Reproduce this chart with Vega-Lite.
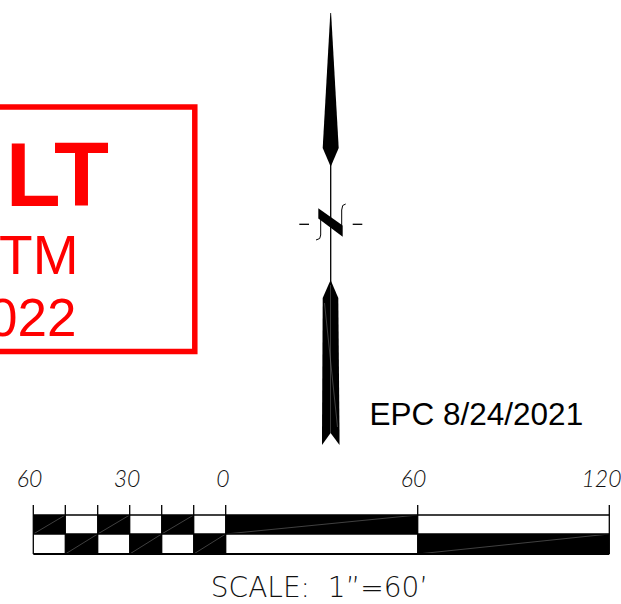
{
"$schema":"https://vega.github.io/schema/vega-lite/v6.json",
"width":621,"height":604,"autosize":"none","padding":0,
"background":"white",
"config":{"view":{"stroke":null}},
"datasets":{
"cells":[
{"x":33.3,"x2":65.3,"y":515,"y2":534},{"x":97.7,"x2":129.7,"y":515,"y2":534},{"x":161.7,"x2":193.7,"y":515,"y2":534},
{"x":65.3,"x2":97.7,"y":534,"y2":554},{"x":129.7,"x2":161.7,"y":534,"y2":554},{"x":193.7,"x2":225.7,"y":534,"y2":554},
{"x":225.7,"x2":417.7,"y":515,"y2":534},{"x":417.7,"x2":609.3,"y":534,"y2":554}],
"seams":[
{"x":33.3,"x2":65.3,"y":534,"y2":515},{"x":97.7,"x2":129.7,"y":534,"y2":515},{"x":161.7,"x2":193.7,"y":534,"y2":515},
{"x":65.3,"x2":97.7,"y":554,"y2":534},{"x":129.7,"x2":161.7,"y":554,"y2":534},{"x":193.7,"x2":225.7,"y":554,"y2":534},
{"x":225.7,"x2":417.7,"y":534,"y2":515},{"x":417.7,"x2":609.3,"y":554,"y2":534},
{"x":324.5,"x2":337.5,"y":303,"y2":427}],
"barlines":[
{"x":33.3,"x2":609.3,"y":515,"y2":515},{"x":33.3,"x2":609.3,"y":534,"y2":534},
{"x":33.3,"x2":33.3,"y":505,"y2":554},{"x":65.3,"x2":65.3,"y":505,"y2":554},{"x":97.7,"x2":97.7,"y":505,"y2":554},{"x":129.7,"x2":129.7,"y":505,"y2":554},{"x":161.7,"x2":161.7,"y":505,"y2":554},{"x":193.7,"x2":193.7,"y":505,"y2":554},{"x":225.7,"x2":225.7,"y":505,"y2":554},{"x":417.7,"x2":417.7,"y":505,"y2":554},{"x":609.3,"x2":609.3,"y":505,"y2":554},
{"x":330.7,"x2":330.7,"y":160,"y2":285},{"x":299.3,"x2":309,"y":224.3,"y2":224.3},{"x":352.7,"x2":362.3,"y":224.3,"y2":224.3}],
"arrow":[
{"part":"top","y":13,"x":330.3,"x2":331.1},{"part":"top","y":148,"x":322.7,"x2":338.7},{"part":"top","y":166.7,"x":330.7,"x2":330.7},
{"part":"left","y":280,"x":330.6,"x2":330.6},{"part":"left","y":298,"x":322.7,"x2":330.6},{"part":"left","y":433,"x":322,"x2":330.6},{"part":"left","y":445,"x":322,"x2":322},
{"part":"right","y":280,"x":330.6,"x2":330.6},{"part":"right","y":298,"x":330.6,"x2":338.3},{"part":"right","y":433,"x":330.6,"x2":339.5},{"part":"right","y":445,"x":339.5,"x2":339.5}],
"nbar":[{"x":318.3,"y":208.3,"y2":218.5},{"x":342.7,"y":225.5,"y2":236.7}],
"stems":[
{"s":"l","o":1,"x":320.7,"y":218},{"s":"l","o":2,"x":320.7,"y":235},{"s":"l","o":3,"x":319.7,"y":238.5},{"s":"l","o":4,"x":316,"y":240},
{"s":"r","o":1,"x":341.7,"y":225},{"s":"r","o":2,"x":341.7,"y":210},{"s":"r","o":3,"x":342.7,"y":205.5},{"s":"r","o":4,"x":345.7,"y":204}],
"box":[{"x":-20,"x2":194.8,"y":107,"y2":351.5}],
"bold":[{"x":109,"y":205.7,"t":"LT"}],
"red1":[{"x":78.5,"y":274,"t":"STM"}],
"red2":[{"x":76.5,"y":335.7,"t":"2022"}],
"epc":[{"x":369.5,"y":425,"t":"EPC 8/24/2021"}],
"ticks":[{"x":29.5,"y":486.7,"t":"60"},{"x":127,"y":486.7,"t":"30"},{"x":223,"y":486.7,"t":"0"},{"x":413.5,"y":486.7,"t":"60"},{"x":601.5,"y":486.7,"t":"120"}],
"scale":[{"x":319.5,"y":597,"t":"SCALE:\u00a0\u00a01”=60’"}]
},
"encoding":{
"x":{"field":"x","type":"quantitative","scale":{"domain":[0,621],"range":[0,621],"nice":false,"zero":false},"axis":null},
"y":{"field":"y","type":"quantitative","scale":{"domain":[0,604],"range":[0,604],"nice":false,"zero":false},"axis":null}
},
"layer":[
{"data":{"name":"cells"},"mark":{"type":"rect","fill":"black"},"encoding":{"x2":{"field":"x2"},"y2":{"field":"y2"}}},
{"data":{"name":"arrow"},"mark":{"type":"area","orient":"horizontal","fill":"black"},"encoding":{"x2":{"field":"x2"},"detail":{"field":"part"}}},
{"data":{"name":"nbar"},"mark":{"type":"area","orient":"vertical","fill":"black"},"encoding":{"y2":{"field":"y2"}}},
{"data":{"name":"seams"},"mark":{"type":"rule","stroke":"#808080","strokeWidth":0.5},"encoding":{"x2":{"field":"x2"},"y2":{"field":"y2"}}},
{"data":{"name":"barlines"},"mark":{"type":"rule","stroke":"black","strokeWidth":1.3},"encoding":{"x2":{"field":"x2"},"y2":{"field":"y2"}}},
{"data":{"values":[{"x":33.3,"x2":609.3,"y":554,"y2":554}]},"mark":{"type":"rule","stroke":"black","strokeWidth":2},"encoding":{"x2":{"field":"x2"},"y2":{"field":"y2"}}},
{"data":{"name":"stems"},"mark":{"type":"line","stroke":"black","strokeWidth":1},"encoding":{"detail":{"field":"s"},"order":{"field":"o"}}},
{"data":{"name":"box"},"mark":{"type":"rect","filled":false,"stroke":"#ff0000","strokeWidth":5.5},"encoding":{"x2":{"field":"x2"},"y2":{"field":"y2"}}},
{"data":{"name":"bold"},"mark":{"type":"text","align":"right","baseline":"alphabetic","font":"Liberation Sans","fontWeight":"bold","fontSize":90,"fill":"#ff0000"},"encoding":{"text":{"field":"t"}}},
{"data":{"name":"red1"},"mark":{"type":"text","align":"right","baseline":"alphabetic","font":"Liberation Sans","fontSize":55,"fill":"#ff0000"},"encoding":{"text":{"field":"t"}}},
{"data":{"name":"red2"},"mark":{"type":"text","align":"right","baseline":"alphabetic","font":"Liberation Sans","fontSize":53,"fill":"#ff0000"},"encoding":{"text":{"field":"t"}}},
{"data":{"name":"epc"},"mark":{"type":"text","align":"left","baseline":"alphabetic","font":"Liberation Sans","fontSize":31.5,"fill":"black"},"encoding":{"text":{"field":"t"}}},
{"data":{"name":"ticks"},"mark":{"type":"text","align":"center","baseline":"alphabetic","font":"Lato","fontStyle":"italic","fontWeight":300,"fontSize":23,"fill":"#111"},"encoding":{"text":{"field":"t"}}},
{"data":{"name":"scale"},"mark":{"type":"text","align":"center","baseline":"alphabetic","font":"DejaVu Sans","fontWeight":200,"fontSize":28,"fill":"#111"},"encoding":{"text":{"field":"t"}}}
]
}
